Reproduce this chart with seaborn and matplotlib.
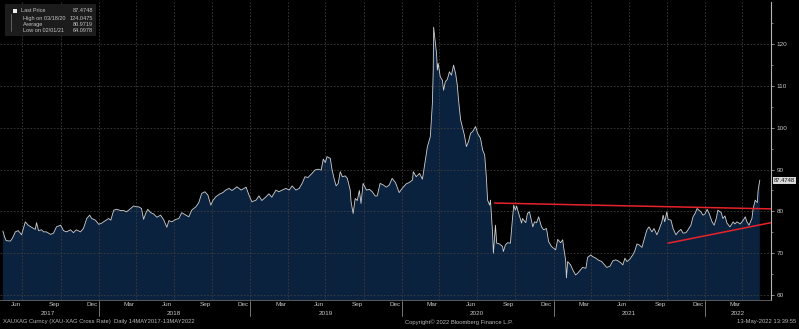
import matplotlib
matplotlib.use("Agg")
import matplotlib.pyplot as plt
import matplotlib.dates as mdates
import matplotlib.transforms as mtransforms
from matplotlib.patches import Rectangle
import pandas as pd
import seaborn as sns

# ---------------- data ----------------
dates = [
    "2017-05-15", "2017-05-19", "2017-05-23", "2017-06-02", "2017-06-07", "2017-06-14", "2017-06-21", "2017-06-29",
    "2017-07-08", "2017-07-15", "2017-07-23", "2017-08-01", "2017-08-04", "2017-08-09", "2017-08-16", "2017-08-21",
    "2017-08-28", "2017-09-07", "2017-09-14", "2017-09-21", "2017-10-01", "2017-10-08", "2017-10-15", "2017-10-25",
    "2017-11-01", "2017-11-08", "2017-11-18", "2017-11-25", "2017-12-03", "2017-12-10", "2017-12-15", "2017-12-24",
    "2018-01-01", "2018-01-08", "2018-01-17", "2018-01-25", "2018-01-30", "2018-02-06", "2018-02-13", "2018-02-23",
    "2018-03-02", "2018-03-09", "2018-03-19", "2018-03-26", "2018-04-02", "2018-04-07", "2018-04-14", "2018-04-19",
    "2018-04-24", "2018-04-29", "2018-05-06", "2018-05-13", "2018-05-21", "2018-05-30", "2018-06-07", "2018-06-14",
    "2018-06-19", "2018-06-26", "2018-07-06", "2018-07-13", "2018-07-20", "2018-07-30", "2018-08-06", "2018-08-13",
    "2018-08-23", "2018-08-30", "2018-09-06", "2018-09-14", "2018-09-21", "2018-09-28", "2018-10-03", "2018-10-10",
    "2018-10-20", "2018-10-27", "2018-11-03", "2018-11-11", "2018-11-18", "2018-11-25", "2018-11-30", "2018-12-10",
    "2018-12-17", "2018-12-22", "2018-12-29",
    "2019-01-05", "2019-01-15", "2019-01-22", "2019-01-29", "2019-02-07", "2019-02-15", "2019-02-22", "2019-03-04",
    "2019-03-11", "2019-03-19", "2019-03-28", "2019-04-05", "2019-04-12", "2019-04-21", "2019-04-29", "2019-05-06",
    "2019-05-13", "2019-05-20", "2019-05-30", "2019-06-06", "2019-06-14", "2019-06-21", "2019-06-26", "2019-07-01",
    "2019-07-05", "2019-07-13", "2019-07-17", "2019-07-22", "2019-07-27", "2019-08-01", "2019-08-06", "2019-08-11",
    "2019-08-18", "2019-08-23", "2019-08-30", "2019-09-01", "2019-09-06", "2019-09-11", "2019-09-16", "2019-09-21",
    "2019-09-25", "2019-09-30", "2019-10-08", "2019-10-15", "2019-10-22", "2019-10-29", "2019-11-03", "2019-11-10",
    "2019-11-18", "2019-11-25", "2019-12-02", "2019-12-09", "2019-12-17", "2019-12-26",
    "2020-01-02", "2020-01-12", "2020-01-19", "2020-01-27", "2020-01-29", "2020-02-05", "2020-02-13", "2020-02-20",
    "2020-02-27", "2020-03-03", "2020-03-10", "2020-03-15", "2020-03-17", "2020-03-18", "2020-03-25", "2020-03-27",
    "2020-03-29", "2020-04-03", "2020-04-08", "2020-04-11", "2020-04-15", "2020-04-20", "2020-04-25", "2020-04-30",
    "2020-05-05", "2020-05-10", "2020-05-14", "2020-05-17", "2020-05-22", "2020-05-26", "2020-05-31", "2020-06-05",
    "2020-06-10", "2020-06-15", "2020-06-20", "2020-06-27", "2020-07-02", "2020-07-09", "2020-07-14", "2020-07-19",
    "2020-07-23", "2020-07-26", "2020-07-31", "2020-08-02", "2020-08-07", "2020-08-09", "2020-08-14", "2020-08-17",
    "2020-08-24", "2020-08-31", "2020-09-02", "2020-09-07", "2020-09-12", "2020-09-19", "2020-09-24", "2020-09-27",
    "2020-10-01", "2020-10-04", "2020-10-09", "2020-10-16", "2020-10-18", "2020-10-26", "2020-10-30", "2020-11-04",
    "2020-11-12", "2020-11-16", "2020-11-21", "2020-11-26", "2020-12-03", "2020-12-08", "2020-12-15", "2020-12-20",
    "2020-12-27",
    "2021-01-01", "2021-01-06", "2021-01-11", "2021-01-18", "2021-01-23", "2021-01-25", "2021-01-30", "2021-02-01",
    "2021-02-04", "2021-02-11", "2021-02-16", "2021-02-23", "2021-02-28", "2021-03-07", "2021-03-12", "2021-03-20",
    "2021-03-24", "2021-04-01", "2021-04-05", "2021-04-13", "2021-04-18", "2021-04-27", "2021-05-04", "2021-05-09",
    "2021-05-17", "2021-05-24", "2021-05-31", "2021-06-05", "2021-06-12", "2021-06-17", "2021-06-22", "2021-06-27",
    "2021-07-04", "2021-07-11", "2021-07-16", "2021-07-21", "2021-07-26", "2021-08-02", "2021-08-07", "2021-08-14",
    "2021-08-19", "2021-08-26", "2021-08-31", "2021-09-07", "2021-09-12", "2021-09-19", "2021-09-22", "2021-09-26",
    "2021-10-01", "2021-10-04", "2021-10-11", "2021-10-16", "2021-10-23", "2021-10-28", "2021-11-04", "2021-11-09",
    "2021-11-16", "2021-11-21", "2021-11-28", "2021-12-03", "2021-12-08", "2021-12-13", "2021-12-17", "2021-12-22",
    "2021-12-27",
    "2022-01-01", "2022-01-06", "2022-01-11", "2022-01-18", "2022-01-23", "2022-01-28", "2022-02-01", "2022-02-09",
    "2022-02-13", "2022-02-18", "2022-02-23", "2022-03-02", "2022-03-10", "2022-03-14", "2022-03-19", "2022-03-27",
    "2022-04-03", "2022-04-08", "2022-04-12", "2022-04-17", "2022-04-24", "2022-04-27", "2022-05-02", "2022-05-07",
    "2022-05-09", "2022-05-13",
]
values = [
    75.3, 73.9, 73.0, 72.9, 73.6, 75.1, 75.4, 74.4,
    77.5, 76.7, 76.2, 75.7, 77.3, 75.4, 75.6, 75.1,
    75.1, 74.5, 74.8, 76.3, 76.7, 75.4, 75.1, 75.6,
    74.9, 75.6, 75.1, 75.9, 78.3, 79.1, 78.3, 77.9,
    76.9, 77.2, 77.8, 78.3, 77.9, 80.3, 80.5, 80.2,
    80.2, 79.9, 80.7, 81.3, 81.1, 81.1, 80.7, 78.1,
    79.5, 80.5, 79.7, 79.4, 78.6, 79.1, 77.9, 76.2,
    77.8, 77.5, 78.1, 78.3, 79.7, 79.1, 78.7, 80.3,
    81.1, 82.1, 84.3, 84.7, 83.9, 81.5, 82.6, 83.5,
    84.2, 84.5, 85.1, 85.5, 85.0, 85.5, 85.9, 85.1,
    85.5, 85.8, 83.9,
    82.3, 82.7, 83.7, 82.6, 83.4, 84.2, 83.4, 85.1,
    84.7, 85.1, 85.5, 85.1, 86.1, 85.1, 85.5, 86.7,
    88.3, 88.1, 89.1, 89.9, 90.1, 89.9, 92.5, 91.7,
    93.1, 92.7, 90.1, 87.9, 86.1, 86.7, 89.5, 88.3,
    88.5, 87.9, 85.1, 82.3, 79.5, 83.1, 82.6, 85.0,
    81.9, 86.7, 85.1, 85.3, 84.7, 83.7, 83.7, 86.7,
    86.3, 85.8, 86.3, 87.9, 86.9, 84.5,
    85.5, 86.6, 86.9, 87.5, 89.5, 88.3, 89.1, 87.7,
    92.3, 95.5, 97.9, 105.9, 113.8, 124.0475, 117.8, 113.8,
    115.4, 112.2, 111.4, 109.0, 111.0, 111.6, 113.4, 112.6,
    115.0, 113.0, 110.2, 106.7, 101.9, 100.3, 98.3, 95.5,
    96.7, 98.7, 99.1, 100.3, 98.7, 97.5, 94.7, 93.5,
    88.3, 82.7, 81.5, 82.7, 74.8, 70.0, 76.7, 72.4,
    72.2, 71.6, 70.4, 72.0, 72.5, 72.4, 78.3, 81.5,
    80.3, 81.3, 79.5, 77.2, 78.3, 77.3, 79.5, 79.9,
    76.3, 77.5, 77.3, 78.7, 76.3, 75.6, 75.9, 72.8,
    71.6,
    71.2, 70.8, 73.3, 72.5, 73.2, 71.6, 68.4, 64.0978,
    68.0, 67.2, 66.1, 64.8, 65.2, 66.0, 66.6, 66.4,
    69.0, 69.6, 69.2, 68.8, 68.4, 68.0, 67.2, 66.6,
    66.9, 68.2, 68.4, 68.2, 67.7, 67.2, 68.8, 68.0,
    68.6, 69.6, 70.6, 72.2, 72.0, 71.4, 73.2, 75.6,
    76.3, 75.1, 75.9, 74.4, 75.6, 77.5, 79.1, 77.5,
    79.9, 78.1, 77.9, 75.9, 74.4, 75.1, 75.7, 74.8,
    74.9, 75.6, 76.7, 78.7, 79.5, 80.7, 80.3, 79.9,
    79.1,
    79.4, 80.5, 79.5, 77.5, 76.7, 78.3, 80.3, 79.7,
    78.3, 78.9, 77.2, 76.3, 77.5, 77.0, 77.5, 77.0,
    77.9, 78.7, 77.5, 76.7, 78.3, 80.7, 82.7, 82.1,
    85.1, 87.4748,
]

# trend lines drawn on the chart (date, value)
upper_trend_dates = ["2020-08-12", "2022-06-09"]
upper_trend_values = [82.0, 80.6]
lower_trend_dates = ["2021-10-04", "2022-06-09"]
lower_trend_values = [72.4, 77.3]

legend_labels = ["Last Price", "High on 03/18/20", "Average", "Low on 02/01/21"]
legend_values = ["87.4748", "124.0475", "80.9719", "64.0978"]
last_price = 87.4748

y_ticks = [60, 70, 80, 90, 100, 110, 120]
year_labels = ["2017", "2018", "2019", "2020", "2021", "2022"]
year_label_dates = ["2017-08-31", "2018-07-01", "2019-07-01", "2020-07-01", "2021-07-01", "2022-03-21"]
year_breaks = ["2018-01-01", "2019-01-01", "2020-01-01", "2021-01-01", "2022-01-01"]

footer_left = "XAUXAG Curncy (XAU-XAG Cross Rate)  Daily 14MAY2017-13MAY2022"
footer_mid = "Copyright\u00a9 2022 Bloomberg Finance L.P."
footer_right = "13-May-2022 13:39:55"

# ---------------- style ----------------
sns.set_style("dark")
plt.rcParams["font.family"] = ["Liberation Sans", "DejaVu Sans"]

W, H = 799, 329
fig = plt.figure(figsize=(W / 100, H / 100), dpi=100, facecolor="black")
ax = fig.add_axes([0 / W, (H - 300) / H, 771 / W, 298 / H])
ax.set_facecolor("black")

TXT = "#c4c4c4"
GRID = "#3e3e3e"
FS = 4.6

df = pd.DataFrame({"date": pd.to_datetime(dates), "value": values})

ax.fill_between(df["date"], df["value"], 0, color="#0b223f", linewidth=0, zorder=1)
sns.lineplot(data=df, x="date", y="value", ax=ax, color="#cfcfcf", linewidth=0.6, zorder=4)

up = pd.DataFrame({"date": pd.to_datetime(upper_trend_dates), "value": upper_trend_values})
lo = pd.DataFrame({"date": pd.to_datetime(lower_trend_dates), "value": lower_trend_values})
sns.lineplot(data=up, x="date", y="value", ax=ax, color="#e8222b", linewidth=1.1, zorder=5)
sns.lineplot(data=lo, x="date", y="value", ax=ax, color="#e8222b", linewidth=1.1, zorder=5)

ax.set_xlim(pd.Timestamp("2017-05-08"), pd.Timestamp("2022-06-09"))
ax.set_ylim(58.8, 130.1)
ax.set_xlabel("")
ax.set_ylabel("")
ax.grid(False)

# horizontal dashed grid
for v in y_ticks:
    ax.axhline(v, color=GRID, linewidth=0.6, linestyle=(0, (2, 2)), zorder=3)
# vertical dashed grid at quarter starts
for q in pd.date_range("2017-07-01", "2022-04-01", freq="QS"):
    ax.axvline(q, color=GRID, linewidth=0.6, linestyle=(0, (2, 2)), zorder=3)

# spines
for s in ["left", "top"]:
    ax.spines[s].set_visible(False)
ax.spines["right"].set_color("#b4b4b4")
ax.spines["right"].set_linewidth(0.8)
ax.spines["bottom"].set_color("#6a6a6a")
ax.spines["bottom"].set_linewidth(0.6)

# y axis on the right
ax.yaxis.tick_right()
ax.set_yticks(y_ticks)
ax.set_yticks([65, 75, 85, 95, 105, 115, 125], minor=True)
ax.tick_params(axis="y", which="major", length=2.5, width=0.6, color="#a0a0a0",
               labelcolor=TXT, labelsize=FS, pad=1.5, direction="out")
ax.tick_params(axis="y", which="minor", length=1.5, width=0.5, color="#a0a0a0", direction="out")

# x axis: month labels in mid-month, tick marks at month starts
ax.xaxis.set_major_locator(mdates.MonthLocator(bymonth=[3, 6, 9, 12], bymonthday=15))
ax.xaxis.set_major_formatter(mdates.DateFormatter("%b"))
ax.xaxis.set_minor_locator(mdates.MonthLocator())
ax.tick_params(axis="x", which="major", length=0, labelcolor=TXT, labelsize=FS, pad=1.5)
ax.tick_params(axis="x", which="minor", length=2, width=0.5, color="#8a8a8a", direction="out")

trans = mtransforms.blended_transform_factory(ax.transData, ax.transAxes)
for lab, d in zip(year_labels, year_label_dates):
    ax.text(pd.Timestamp(d), -0.044, lab, transform=trans, ha="center", va="center",
            fontsize=FS, color=TXT, clip_on=False)
for d in year_breaks:
    ax.plot([pd.Timestamp(d)] * 2, [-0.005, -0.055], transform=trans, color="#8a8a8a",
            linewidth=0.6, clip_on=False)

# last price tag
ytrans = mtransforms.blended_transform_factory(ax.transAxes, ax.transData)
ax.text(1.004, last_price, legend_values[0], transform=ytrans, ha="left", va="center",
        fontsize=4.2, color="#111111", clip_on=False,
        bbox=dict(boxstyle="square,pad=0.15", fc="#d9d9d9", ec="none"))


# legend box (top-left)
def fx(x):
    return x / W


def fy(y):
    return 1 - y / H


fig.patches.append(Rectangle((fx(5), fy(36)), 91 / W, 32 / H, transform=fig.transFigure,
                             facecolor="#1c1c1c", edgecolor="none", zorder=10))
fig.patches.append(Rectangle((fx(13), fy(13)), 4 / W, 4 / H, transform=fig.transFigure,
                             facecolor="#f0f0f0", edgecolor="none", zorder=11))
fig.lines.append(plt.Line2D([fx(11), fx(11)], [fy(14), fy(31)], transform=fig.transFigure,
                            color="#7a7a7a", linewidth=0.5, zorder=11))
rows = [11, 18.3, 24.7, 31]
for i, (lab, val, ry) in enumerate(zip(legend_labels, legend_values, rows)):
    lx = 21 if i == 0 else 23
    fig.text(fx(lx), fy(ry), lab, ha="left", va="center", fontsize=4.0, color=TXT, zorder=12)
    fig.text(fx(93), fy(ry), val, ha="right", va="center", fontsize=4.0, color=TXT, zorder=12)

# footer
fig.text(fx(3), fy(322), footer_left, ha="left", va="center", fontsize=4.2, color="#b8b8b8")
fig.text(fx(405), fy(322), footer_mid, ha="left", va="center", fontsize=4.2, color="#b8b8b8")
fig.text(fx(796), fy(322), footer_right, ha="right", va="center", fontsize=4.2, color="#b8b8b8")

fig.savefig("out.png", dpi=100, facecolor="black")
